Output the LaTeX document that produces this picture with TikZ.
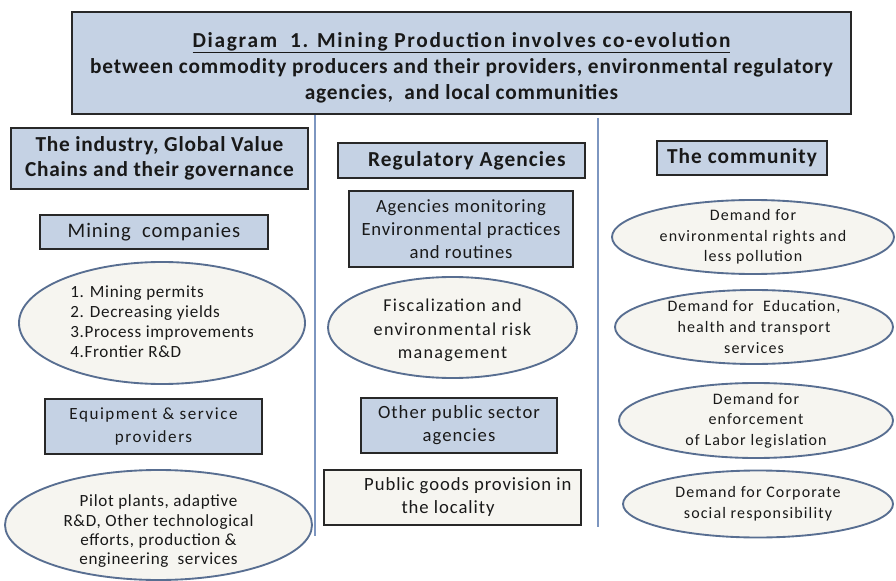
\documentclass[tikz,border=0pt]{standalone}
\usepackage{fontspec}
\setmainfont{Carlito}
\usetikzlibrary{shapes.geometric}
\definecolor{boxblue}{RGB}{197,210,228}
\definecolor{ovalfill}{RGB}{246,245,240}
\definecolor{ovalline}{RGB}{88,110,145}
\definecolor{divider}{RGB}{125,150,192}
\definecolor{boxline}{RGB}{40,40,40}
% size, baseline skip, letter spacing
\newcommand{\fs}[3]{\fontsize{#1}{#2}\selectfont\addfontfeatures{LetterSpace=#3}}
\begin{document}
\begin{tikzpicture}[x=0.75pt,y=-0.75pt,
  wh/.style 2 args={minimum width=#1*0.75pt, minimum height=#2*0.75pt},
  bluebox/.style={draw=boxline, line width=0.9pt, fill=boxblue, inner sep=0pt, align=center, text=black!90},
  palebox/.style={bluebox, fill=ovalfill},
  oval/.style={ellipse, draw=ovalline, line width=1.4pt, fill=ovalfill, inner sep=-40pt, align=center, text=black!90},
  divline/.style={draw=divider, line width=1.2pt}
]
\path[use as bounding box] (0,0) rectangle (896,581);

% column dividers
\coordinate (d1top) at (315,114);
\coordinate (d1bot) at (315,536);
\coordinate (d2top) at (598,118);
\coordinate (d2bot) at (598,527);
\draw[divline] (d1top) -- (d1bot);
\draw[divline] (d2top) -- (d2bot);

% title
\node[bluebox, wh={779}{102}, font=\fs{16}{19.5}{4}\bfseries] (title) at (461.5,63) {%
  \rule{0pt}{18pt}{\addfontfeatures{LetterSpace=8}\underline{Diagram\ \ 1. Mining Production\ involves co-evolution}}\\
  between commodity producers and their providers, environmental regulatory\\
  agencies,\ \ and local communities};

% industry column
\node[bluebox, wh={297}{61}, font=\fs{16}{18.75}{3.5}\bfseries] (industry) at (159.5,158.5) {The industry, Global Value\\Chains and their governance};
\node[bluebox, wh={228}{34}, font=\fs{15.5}{18}{4.5}] (mining) at (154,232) {Mining\ \ companies};
\node[oval, wh={286}{122}, font=\fs{12.8}{15}{4}] (miningoval) at (162,323) {\begin{tabular}{@{}l@{}}1. Mining permits\\2. Decreasing yields\\3.Process improvements\\4.Frontier R\&D\end{tabular}};
\node[bluebox, wh={217}{55}, font=\fs{12.8}{17.25}{9}] (equip) at (153.5,426.5) {Equipment \& service\\providers};
\node[oval, wh={307}{110}, font=\fs{12.8}{14.3}{4}] (equipoval) at (158.5,525) {\rule{0pt}{18pt}Pilot plants, adaptive\\R\&D, Other technological\\efforts, production \&\\engineering\ \ services};

% regulatory column
\node[bluebox, wh={247}{35}, font=\fs{16}{18}{5}\bfseries] (reg) at (461.5,160.5) {\hspace{8pt}Regulatory Agencies};
\node[bluebox, wh={224}{76}, font=\fs{14}{17.25}{4.5}] (monitor) at (461,229) {Agencies monitoring\\Environmental practices\\and routines};
\node[oval, wh={249}{101}, font=\fs{13.6}{17.5}{7}] (fiscal) at (452.5,327.5) {\rule{0pt}{14pt}Fiscalization and\\environmental risk\\management};
\node[bluebox, wh={196}{55}, font=\fs{14}{17.25}{5.5}] (otherpub) at (459,425.5) {Other public sector\\agencies};
\node[palebox, wh={257}{55}, font=\fs{14}{17.25}{5}] (goods) at (452.5,497.5) {\begin{tabular}{@{}l@{}}\hspace{23pt}Public goods provision in\\\hspace{51pt}the locality\end{tabular}};

% community column
\node[bluebox, wh={170}{34}, font=\fs{16}{18}{5}\bfseries] (community) at (742,158) {The community};
\node[oval, wh={282}{74}, font=\fs{12}{15.5}{7}] (envdemand) at (753,237) {Demand for\\environmental rights and\\less pollution};
\node[oval, wh={278}{74}, font=\fs{12}{15.5}{7}] (educdemand) at (754,327) {Demand for\ \ Education,\\health and transport\\services};
\node[oval, wh={274}{75}, font=\fs{12}{15.5}{7}] (labordemand) at (756,420.5) {Demand for\\enforcement\\of Labor legislation};
\node[oval, wh={270}{67}, font=\fs{12}{15.5}{7}] (csrdemand) at (758,504) {Demand for Corporate\\social responsibility};
\end{tikzpicture}
\end{document}
